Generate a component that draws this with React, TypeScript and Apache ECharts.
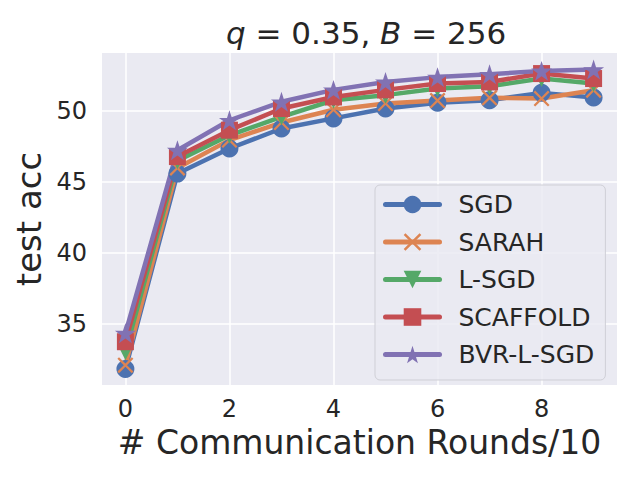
import React, { useEffect, useRef } from "react";
import * as echarts from "echarts";

const rounds = [0, 1, 2, 3, 4, 5, 6, 7, 8, 9];
const sgd = [31.83, 45.6, 47.37, 48.78, 49.49, 50.19, 50.6, 50.77, 51.29, 50.96];
const sarah = [32.1, 46.0, 47.96, 49.2, 50.1, 50.54, 50.75, 50.94, 50.89, 51.48];
const lsgd = [33.05, 46.5, 48.3, 49.6, 50.77, 51.13, 51.6, 51.76, 52.3, 51.95];
const scaffold = [33.75, 46.8, 48.66, 50.19, 51.0, 51.5, 51.95, 52.06, 52.65, 52.3];
const bvr = [34.35, 47.25, 49.36, 50.66, 51.5, 52.06, 52.4, 52.6, 52.84, 52.93];
const xTicks = [0, 2, 4, 6, 8];
const yTicks = [35, 40, 45, 50];

const FONT = "DejaVu Sans";
const TXT = "#262626";
const STAR = "path://M50,0 L61.2,34.5 L97.6,34.5 L68.2,55.9 L79.4,90.5 L50,69.1 L20.6,90.5 L31.8,55.9 L2.4,34.5 L38.8,34.5 Z";
const XMARK = "path://M0,2 L2,0 L10,8 L18,0 L20,2 L12,10 L20,18 L18,20 L10,12 L2,20 L0,18 L8,10 Z";

export default function App() {
  const ref = useRef<HTMLDivElement>(null);
  useEffect(() => {
    document.body.style.margin = "0";
    const chart = echarts.init(ref.current!, null, { renderer: "svg" });
    const mk = (name: string, data: number[], color: string, symbol: string, size: number, rotate = 0) => ({
      name,
      type: "line",
      data: rounds.map((r, i) => [r, data[i]]),
      symbol,
      symbolSize: size,
      symbolRotate: rotate,
      symbolKeepAspect: true,
      showAllSymbol: true,
      lineStyle: { width: 4.5, color, cap: "round", join: "round" },
      itemStyle: { color, borderWidth: 0 },
      emphasis: { disabled: true },
    });
    chart.setOption({
      animation: false,
      backgroundColor: "#ffffff",
      title: {
        text: "{i|q} = 0.35, {i|B} = 256",
        left: 221,
        top: 12,
        textStyle: {
          fontFamily: FONT,
          fontSize: 31,
          fontWeight: "normal",
          color: TXT,
          rich: { i: { fontFamily: FONT, fontSize: 31, fontStyle: "italic", color: TXT } },
        },
      },
      grid: { left: 102, right: 23, top: 53, bottom: 95, show: true, backgroundColor: "#EAEAF2", borderWidth: 0 },
      xAxis: {
        type: "value",
        min: -0.45,
        max: 9.45,
        name: "# Communication Rounds/10",
        nameLocation: "middle",
        nameGap: 40,
        nameTextStyle: { fontFamily: FONT, fontSize: 33, color: TXT },
        axisLine: { show: false },
        axisTick: { show: false, customValues: xTicks },
        axisLabel: { customValues: xTicks, fontFamily: FONT, fontSize: 24, color: TXT, margin: 12 },
        splitLine: { show: true, lineStyle: { color: "#ffffff", width: 1.5 } },
      },
      yAxis: {
        type: "value",
        min: 30.7,
        max: 54.1,
        name: "test acc",
        nameLocation: "middle",
        nameGap: 52,
        nameRotate: 90,
        nameTextStyle: { fontFamily: FONT, fontSize: 34, color: TXT },
        axisLine: { show: false },
        axisTick: { show: false, customValues: yTicks },
        axisLabel: { customValues: yTicks, fontFamily: FONT, fontSize: 24, color: TXT, margin: 15 },
        splitLine: { show: true, lineStyle: { color: "#ffffff", width: 1.5 } },
      },
      legend: {
        orient: "vertical",
        left: 375,
        top: 185,
        padding: [7, 11, 13, 8],
        itemWidth: 54,
        itemHeight: 22,
        itemGap: 12.5,
        backgroundColor: "rgba(234,234,242,0.85)",
        borderColor: "#cfcfd6",
        borderWidth: 1,
        borderRadius: 5,
        lineStyle: { width: 5, cap: "round" },
        textStyle: { fontFamily: FONT, fontSize: 25, color: TXT, lineHeight: 24, padding: [0, 0, 0, 14] },
        data: ["SGD", "SARAH", "L-SGD", "SCAFFOLD", "BVR-L-SGD"],
      },
      series: [
        mk("SGD", sgd, "#4C72B0", "circle", 18),
        mk("SARAH", sarah, "#DD8452", XMARK, 16),
        mk("L-SGD", lsgd, "#55A868", "triangle", 17, 180),
        mk("SCAFFOLD", scaffold, "#C44E52", "rect", 17),
        mk("BVR-L-SGD", bvr, "#8172B3", STAR, 21),
      ],
    });
    return () => chart.dispose();
  }, []);
  return <div ref={ref} style={{ width: 640, height: 480 }} />;
}
